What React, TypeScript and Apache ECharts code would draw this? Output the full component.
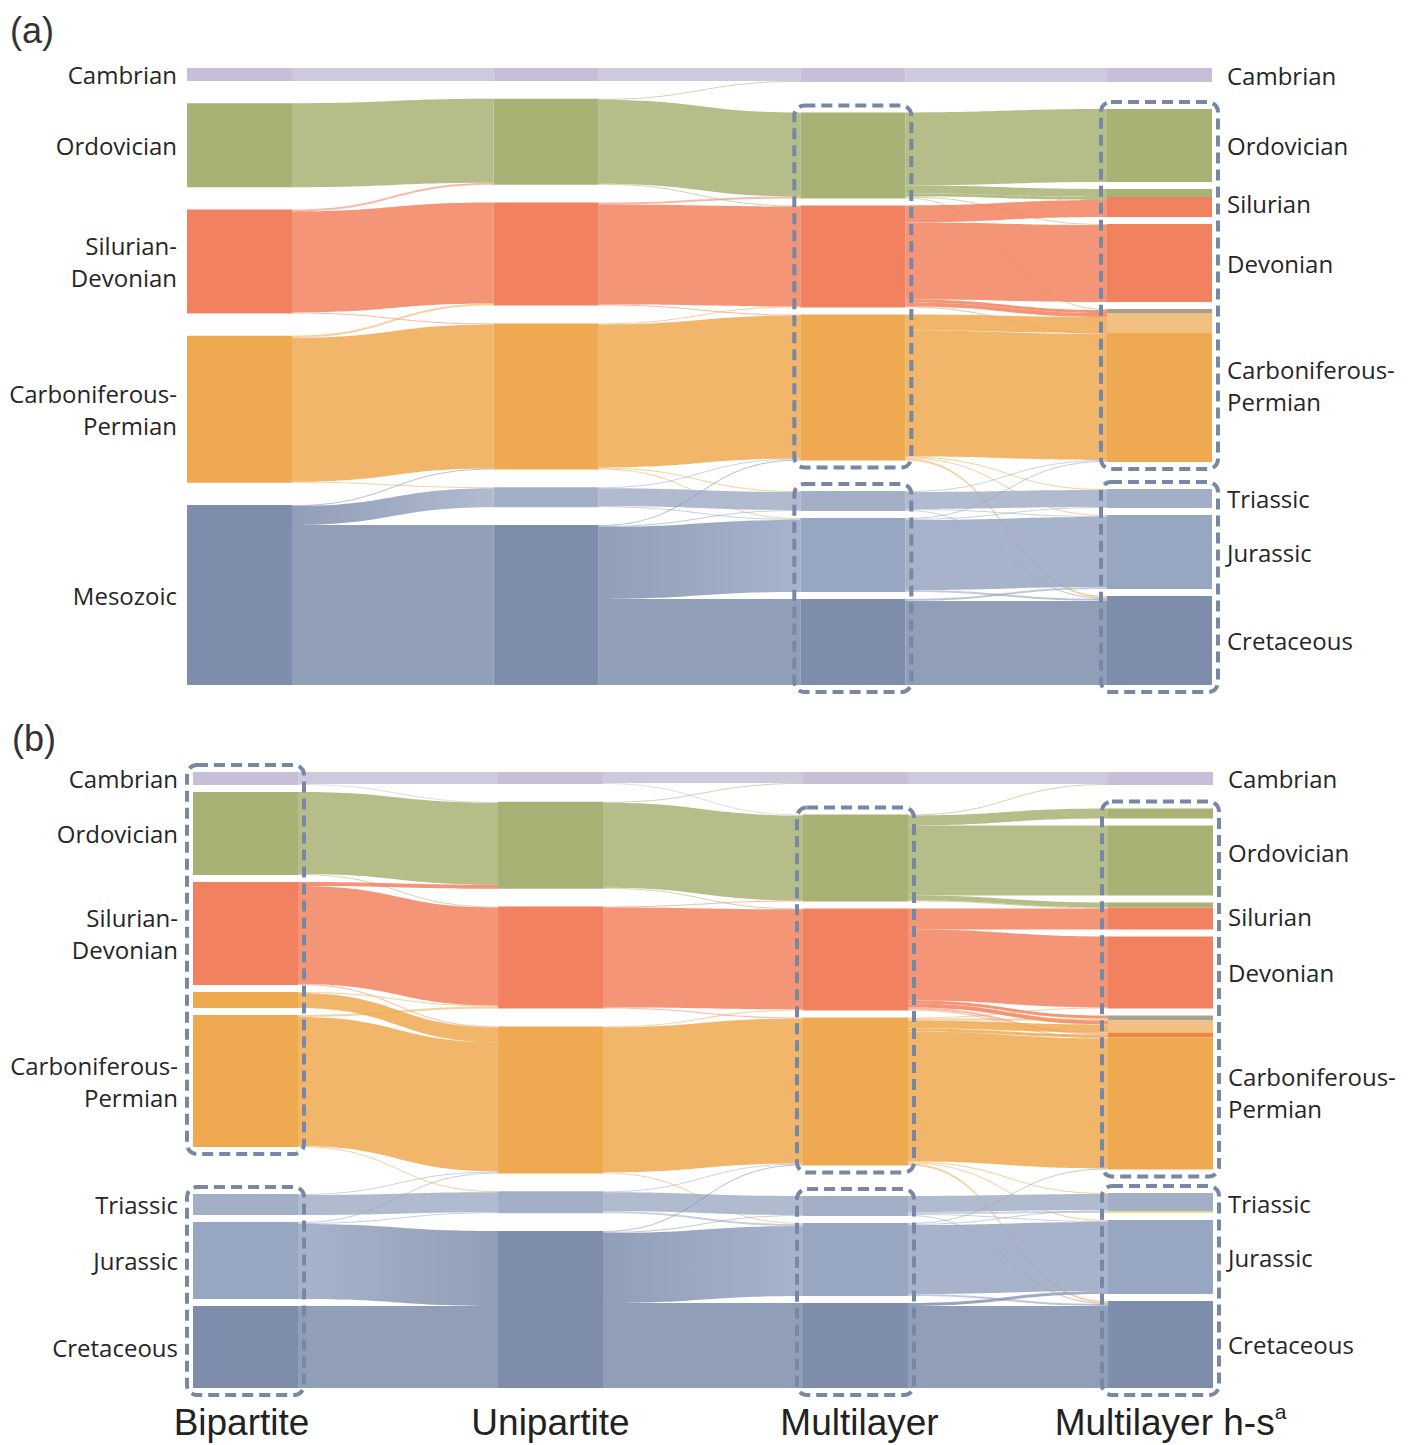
import React, { useEffect, useRef } from 'react';
import * as echarts from 'echarts';

// ---------------- DATA ----------------
const STAGES = ['Bipartite', 'Unipartite', 'Multilayer', 'Multilayer h-s'];

const PERIOD_LABELS: Record<string, string> = {
  Cam: 'Cambrian',
  Ord: 'Ordovician',
  SD: 'Silurian-\nDevonian',
  CP: 'Carboniferous-\nPermian',
  Meso: 'Mesozoic',
  Sil: 'Silurian',
  Dev: 'Devonian',
  Tri: 'Triassic',
  Jur: 'Jurassic',
  Cre: 'Cretaceous',
};

// Panel (a): module keys per column, top to bottom
const A_COLUMNS = [
  ['Cam', 'Ord', 'SD', 'CP', 'Meso'],
  ['Cam', 'Ord', 'SD', 'CP', 'Tri', 'Meso'],
  ['Cam', 'Ord', 'SD', 'CP', 'Tri', 'Jur', 'Cre'],
  ['Cam', 'Ord', 'SilG', 'Sil', 'Dev', 'CPg', 'CPl', 'CP', 'Tri', 'Jur', 'Cre'],
];
// flows between consecutive columns: [from, to, taxa]
const A_FLOWS_1 = [
  ['Cam', 'Cam', 13], ['Ord', 'Ord', 84], ['SD', 'Ord', 2], ['SD', 'SD', 101], ['SD', 'CP', 1],
  ['CP', 'SD', 2], ['CP', 'CP', 144], ['CP', 'Tri', 1], ['Meso', 'CP', 1], ['Meso', 'Tri', 19], ['Meso', 'Meso', 160],
];
const A_FLOWS_2 = [
  ['Cam', 'Cam', 13], ['Ord', 'Cam', 1], ['Ord', 'Ord', 84], ['Ord', 'SD', 1], ['SD', 'Ord', 2], ['SD', 'SD', 100],
  ['SD', 'CP', 1], ['CP', 'SD', 1], ['CP', 'CP', 143], ['CP', 'Tri', 1], ['CP', 'Jur', 1], ['Tri', 'CP', 1],
  ['Tri', 'Tri', 18], ['Tri', 'Jur', 1], ['Meso', 'CP', 1], ['Meso', 'Tri', 1], ['Meso', 'Jur', 72], ['Meso', 'Cre', 86],
];
const A_FLOWS_3 = [
  ['Cam', 'Cam', 14],
  ['Ord', 'Ord', 73], ['Ord', 'SilG', 8], ['Ord', 'Sil', 3], ['Ord', 'Dev', 1], ['Ord', 'CPg', 1],
  ['SD', 'Sil', 17], ['SD', 'Dev', 77], ['SD', 'CPg', 3], ['SD', 'CPl', 4], ['SD', 'CP', 1],
  ['CP', 'CPl', 16], ['CP', 'CP', 126], ['CP', 'Tri', 1], ['CP', 'Jur', 1], ['CP', 'Cre', 2],
  ['Tri', 'CP', 1], ['Tri', 'Tri', 17], ['Tri', 'Jur', 1], ['Tri', 'Cre', 1],
  ['Jur', 'CP', 1], ['Jur', 'Tri', 1], ['Jur', 'Jur', 70], ['Jur', 'Cre', 2],
  ['Cre', 'Jur', 2], ['Cre', 'Cre', 84],
];

// Panel (b)
const B_COLUMNS = [
  ['Cam', 'Ord', 'SD', 'CPs', 'CP', 'Tri', 'Jur', 'Cre'],
  ['Cam', 'Ord', 'SD', 'CP', 'Tri', 'Meso'],
  ['Cam', 'Ord', 'SD', 'CP', 'Tri', 'Jur', 'Cre'],
  ['Cam', 'OrdG', 'Ord', 'SilG', 'Sil', 'Dev', 'CPg', 'CPl', 'CPd', 'CP', 'Tri', 'TriY', 'Jur', 'Cre'],
];
const B_FLOWS_1 = [
  ['Cam', 'Cam', 12], ['Cam', 'Ord', 1], ['Ord', 'Ord', 82], ['Ord', 'SD', 1], ['SD', 'Ord', 4], ['SD', 'SD', 98],
  ['SD', 'CP', 1], ['CPs', 'SD', 1], ['CPs', 'CP', 15], ['CP', 'SD', 2], ['CP', 'CP', 129], ['CP', 'Tri', 1],
  ['Tri', 'Tri', 20], ['Tri', 'CP', 1], ['Jur', 'CP', 1], ['Jur', 'Tri', 1], ['Jur', 'Meso', 75], ['Cre', 'Meso', 82],
];
const B_FLOWS_2 = [
  ['Cam', 'Cam', 11], ['Cam', 'Ord', 1], ['Ord', 'Cam', 1], ['Ord', 'Ord', 85], ['Ord', 'SD', 1], ['SD', 'Ord', 1],
  ['SD', 'SD', 100], ['SD', 'CP', 1], ['CP', 'SD', 1], ['CP', 'CP', 145], ['CP', 'Jur', 1],
  ['Tri', 'CP', 1], ['Tri', 'Tri', 19], ['Tri', 'Jur', 2], ['Meso', 'CP', 1], ['Meso', 'Tri', 1], ['Meso', 'Jur', 70],
  ['Meso', 'Cre', 85],
];
const B_FLOWS_3 = [
  ['Cam', 'Cam', 12],
  ['Ord', 'Cam', 1], ['Ord', 'OrdG', 10], ['Ord', 'Ord', 70], ['Ord', 'SilG', 5], ['Ord', 'Sil', 1],
  ['SD', 'Sil', 21], ['SD', 'Dev', 71], ['SD', 'CPg', 3], ['SD', 'CPl', 4], ['SD', 'CPd', 2], ['SD', 'CP', 1],
  ['CP', 'Dev', 1], ['CP', 'CPg', 2], ['CP', 'CPl', 8], ['CP', 'CPd', 3], ['CP', 'CP', 130], ['CP', 'Tri', 1],
  ['CP', 'Jur', 1], ['CP', 'Cre', 2],
  ['Tri', 'Tri', 16], ['Tri', 'TriY', 2], ['Tri', 'Jur', 1], ['Tri', 'Cre', 1],
  ['Jur', 'CP', 1], ['Jur', 'Tri', 1], ['Jur', 'Jur', 69], ['Jur', 'Cre', 2],
  ['Cre', 'Jur', 3], ['Cre', 'Cre', 82],
];

// label spans of multi-part modules in the last column
const A_LABEL_SPANS: Record<string, [string, string]> = { Sil: ['SilG', 'Sil'], CP: ['CPg', 'CP'] };
const B_LABEL_SPANS: Record<string, [string, string]> = {
  Ord: ['OrdG', 'Ord'], Sil: ['SilG', 'Sil'], CP: ['CPg', 'CP'], Tri: ['Tri', 'TriY'],
};
// highlighted module groups (dashed boxes): [column, first, last]
const A_BOXES: [number, string, string][] = [[2, 'Ord', 'CP'], [2, 'Tri', 'Cre'], [3, 'Ord', 'CP'], [3, 'Tri', 'Cre']];
const B_BOXES: [number, string, string][] = [
  [0, 'Cam', 'CP'], [0, 'Tri', 'Cre'], [2, 'Ord', 'CP'], [2, 'Tri', 'Cre'], [3, 'OrdG', 'CP'], [3, 'Tri', 'Cre'],
];

// ---------------- STYLE / LAYOUT ----------------
const COLORS: Record<string, string> = {
  Cam: '#c7bfd7', Ord: '#a8b274', OrdG: '#a8b274', SilG: '#a8b274',
  SD: '#f2825f', Sil: '#f2825f', Dev: '#f2825f',
  CP: '#efa950', CPs: '#efa950', CPg: '#a7a28c', CPl: '#f3c084', CPd: '#e98a3d',
  Meso: '#7e8dab', Tri: '#a3afc7', TriY: '#e9dc8a', Jur: '#97a6c1', Cre: '#7e8dab',
};
const BLUES = new Set(['Meso', 'Tri', 'Jur', 'Cre']);

// gap kinds before each node: 0 none, 1 small, 2 large
const A_GAPS = [
  [0, 2, 2, 2, 2],
  [0, 2, 2, 2, 2, 2],
  [0, 2, 1, 1, 2, 1, 1],
  [0, 2, 1, 0, 1, 1, 0, 0, 2, 1, 1],
];
const B_GAPS = [
  [0, 1, 1, 1, 1, 2, 1, 1],
  [0, 2, 2, 2, 2, 2],
  [0, 2, 1, 1, 2, 1, 1],
  [0, 2, 1, 1, 0, 1, 1, 0, 0, 0, 2, 0, 1, 1],
];
const SMALL_GAP = 7;
const NODE_W = 105;
const UNIT_PX = 1;
const FONT = "'Open Sans', 'Noto Sans', sans-serif";
const SANS = "'Liberation Sans', Arial, sans-serif";

const GEO_A = { left: 187, top: 68, width: 1025, height: 617, labelGap: 10 };
const GEO_B = { left: 193, top: 772, width: 1020, height: 616, labelGap: 15 };

function buildPanel(p: string, cols: string[][], flows: any[][], gaps: number[][],
  spans: Record<string, [string, string]>, boxes: [number, string, string][], geo: any) {
  const id = (c: number, k: string) => `${p}${c}:${k}`;
  const inSum: Record<string, number> = {};
  const outSum: Record<string, number> = {};
  const links: any[] = [];
  flows.forEach((stage, s) => {
    stage.forEach(([a, b, v]: any) => {
      const src = id(s, a), tgt = id(s + 1, b);
      outSum[src] = (outSum[src] || 0) + v;
      inSum[tgt] = (inSum[tgt] || 0) + v;
      const grad = BLUES.has(a) && BLUES.has(b) && COLORS[a] !== COLORS[b];
      links.push({
        source: src, target: tgt, value: v,
        lineStyle: { color: grad ? 'gradient' : COLORS[a], opacity: v <= 2 ? 0.55 : 0.85 },
      });
    });
  });
  const val = (c: number, k: string) => Math.max(inSum[id(c, k)] || 0, outSum[id(c, k)] || 0);
  const colSum = (c: number) => cols[c].reduce((t, k) => t + val(c, k), 0);
  const nmax = Math.max(...cols.map((c) => c.length));
  const S = Math.max(...cols.map((_, c) => colSum(c)));
  const nodeGap = (geo.height - S * UNIT_PX) / (nmax - 1);
  const ky = Math.min(...cols.map((keys, c) => (geo.height - (keys.length - 1) * nodeGap) / colSum(c)));
  const kx = (geo.width - NODE_W) / (cols.length - 1);

  const pos: Record<string, [number, number]> = {};
  cols.forEach((keys, c) => {
    const hs = keys.map((k) => val(c, k) * ky);
    const free = geo.height - hs.reduce((a, b) => a + b, 0);
    const kinds = gaps[c];
    const nSmall = kinds.filter((g) => g === 1).length;
    const nBig = kinds.filter((g) => g === 2).length;
    let small = SMALL_GAP;
    const big = nBig ? (free - nSmall * SMALL_GAP) / nBig : 0;
    if (!nBig) small = free / Math.max(1, nSmall);
    let y = 0;
    keys.forEach((k, i) => {
      if (i > 0) y += kinds[i] === 2 ? big : kinds[i] === 1 ? small : 0;
      pos[id(c, k)] = [y, y + hs[i]];
      y += hs[i];
    });
  });

  const labelText: Record<string, string> = {};
  const nodes: any[] = [];
  cols.forEach((keys, c) => {
    keys.forEach((k) => {
      const nid = id(c, k);
      const edge = c === 0 || c === cols.length - 1;
      const txt = edge && !(c === 0 && k === 'CPs') ? PERIOD_LABELS[k] : undefined;
      let off = 0;
      if (txt && c === cols.length - 1 && spans[k]) {
        const a = pos[id(c, spans[k][0])][0];
        const b = pos[id(c, spans[k][1])][1];
        off = (a + b) / 2 - (pos[nid][0] + pos[nid][1]) / 2;
      }
      if (txt) labelText[nid] = txt;
      nodes.push({
        name: nid,
        depth: c,
        localY: pos[nid][0] / geo.height,
        itemStyle: { color: COLORS[k] },
        label: txt
          ? { show: true, position: c === 0 ? 'left' : 'right', distance: c === 0 ? geo.labelGap : 15, offset: [0, off] }
          : { show: false },
      });
    });
  });

  const series = {
    type: 'sankey',
    left: geo.left, top: geo.top, width: geo.width, height: geo.height,
    nodeWidth: NODE_W, nodeGap, layoutIterations: 0, nodeAlign: 'justify', draggable: false,
    emphasis: { disabled: true },
    itemStyle: { borderWidth: 0 },
    lineStyle: { curveness: 0.5, opacity: 0.85 },
    label: {
      fontFamily: FONT, fontSize: 24, fontWeight: 500, color: '#262626', lineHeight: 32,
      formatter: (prm: any) => labelText[prm.name] || '',
    },
    data: nodes,
    links,
  };

  const PADX = 6, PADY = 7;
  const boxGraphics = boxes.map(([c, k1, k2]) => {
    const y0 = pos[id(c, k1)][0];
    const y1 = pos[id(c, k2)][1];
    return {
      type: 'rect', z: 100,
      shape: { x: geo.left + c * kx - PADX, y: geo.top + y0 - PADY, width: NODE_W + 2 * PADX, height: y1 - y0 + 2 * PADY, r: 10 },
      style: { fill: 'none', stroke: '#7887a3', lineWidth: 4, lineDash: [11, 6] },
    };
  });
  const centers = cols.map((_, c) => geo.left + c * kx + NODE_W / 2);
  return { series, boxGraphics, centers };
}

export default function App() {
  const ref = useRef<HTMLDivElement>(null);
  useEffect(() => {
    if (!ref.current) return;
    const chart = echarts.init(ref.current, undefined, { renderer: 'svg' });
    const A = buildPanel('a', A_COLUMNS, [A_FLOWS_1, A_FLOWS_2, A_FLOWS_3], A_GAPS, A_LABEL_SPANS, A_BOXES, GEO_A);
    const B = buildPanel('b', B_COLUMNS, [B_FLOWS_1, B_FLOWS_2, B_FLOWS_3], B_GAPS, B_LABEL_SPANS, B_BOXES, GEO_B);
    const shift = [-4, 0, 4, 10];
    const stageTexts = STAGES.map((s, c) => ({
      type: 'text', z: 100, x: B.centers[c] + shift[c], y: 1422,
      style: c === 3
        ? {
          text: '{m|' + s + '}{s|a}',
          align: 'center', verticalAlign: 'middle',
          rich: {
            m: { fontFamily: SANS, fontSize: 37, lineHeight: 42, fill: '#222' },
            s: { fontFamily: SANS, fontSize: 21, lineHeight: 21, verticalAlign: 'top', fill: '#222' },
          },
        }
        : {
          text: s, align: 'center', verticalAlign: 'middle',
          font: `37px ${SANS}`, fill: '#222',
        },
    }));
    const panelTexts = [
      { type: 'text', z: 100, x: 10, y: 30, style: { text: '(a)', verticalAlign: 'middle', font: `36px ${SANS}`, fill: '#333' } },
      { type: 'text', z: 100, x: 12, y: 738, style: { text: '(b)', verticalAlign: 'middle', font: `36px ${SANS}`, fill: '#333' } },
    ];
    chart.setOption({
      animation: false,
      backgroundColor: '#ffffff',
      series: [A.series, B.series],
      graphic: { elements: [...A.boxGraphics, ...B.boxGraphics, ...stageTexts, ...panelTexts] },
    } as any);
    return () => chart.dispose();
  }, []);
  return <div ref={ref} style={{ position: 'absolute', left: 0, top: 0, width: 1414, height: 1445 }} />;
}
